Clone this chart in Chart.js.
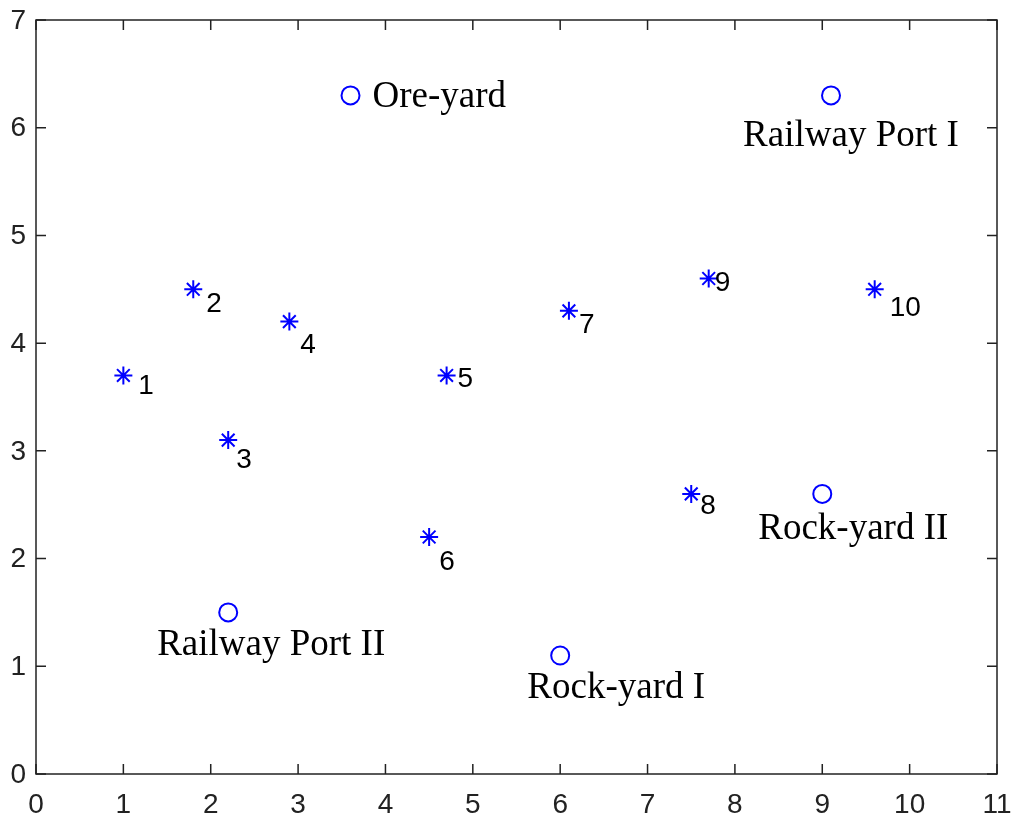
<!DOCTYPE html>
<html>
<head>
<meta charset="utf-8">
<script src="https://cdn.jsdelivr.net/npm/chart.js@4/dist/chart.umd.min.js"></script>
<style>
  html, body { margin: 0; padding: 0; background: #fff; }
  #wrap { width: 1012px; height: 816px; }
</style>
</head>
<body>
<div id="wrap"><canvas id="chart"></canvas></div>
<script>
// Data
const xTicks = [0, 1, 2, 3, 4, 5, 6, 7, 8, 9, 10, 11];
const yTicks = [0, 1, 2, 3, 4, 5, 6, 7];

const pointNames = ['1', '2', '3', '4', '5', '6', '7', '8', '9', '10'];
const pointX = [1.0, 1.8, 2.2, 2.9, 4.7, 4.5, 6.1, 7.5, 7.7, 9.6];
const pointY = [3.7, 4.5, 3.1, 4.2, 3.7, 2.2, 4.3, 2.6, 4.6, 4.5];

const siteNames = ['Ore-yard', 'Railway Port I', 'Rock-yard II', 'Railway Port II', 'Rock-yard I'];
const siteX = [3.6, 9.1, 9.0, 2.2, 6.0];
const siteY = [6.3, 6.3, 2.6, 1.5, 1.1];

// label placement (pixels from the marker, text baseline)
const pointLabelOffset = [[15, 19], [13, 23], [8, 28], [11, 31], [11, 12], [10, 33], [10, 22], [9, 20], [6, 12], [15, 27]];
const siteLabelOffset = [[22, 12, 'left'], [20, 51, 'center'], [31, 45, 'center'], [43, 43, 'center'], [56, 42, 'center']];

const tickFont = { family: "'Liberation Sans', Arial, sans-serif", size: 28 };

// MATLAB-style box with inward ticks on all sides, y tick labels
const boxPlugin = {
    id: 'box',
    afterDraw(chart) {
        const ctx = chart.ctx;
        const a = chart.chartArea;
        const xs = chart.scales.x, ys = chart.scales.y;
        const len = 10;
        ctx.save();
        ctx.strokeStyle = '#222';
        ctx.lineWidth = 1.5;
        ctx.strokeRect(a.left, a.top, a.right - a.left, a.bottom - a.top);
        ctx.beginPath();
        xTicks.forEach(v => {
            const px = xs.getPixelForValue(v);
            ctx.moveTo(px, a.bottom); ctx.lineTo(px, a.bottom - len);
            ctx.moveTo(px, a.top); ctx.lineTo(px, a.top + len);
        });
        yTicks.forEach(v => {
            const py = ys.getPixelForValue(v);
            ctx.moveTo(a.left, py); ctx.lineTo(a.left + len, py);
            ctx.moveTo(a.right, py); ctx.lineTo(a.right - len, py);
        });
        ctx.stroke();

        ctx.fillStyle = '#222';
        ctx.font = tickFont.size + 'px ' + tickFont.family;
        ctx.textAlign = 'right';
        ctx.textBaseline = 'middle';
        yTicks.forEach(v => {
            ctx.fillText(String(v), a.left - 10, ys.getPixelForValue(v) + 1);
        });
        ctx.restore();
    }
};

const labelPlugin = {
    id: 'labels',
    afterDatasetsDraw(chart) {
        const ctx = chart.ctx;
        ctx.save();
        ctx.fillStyle = '#000';
        ctx.textBaseline = 'alphabetic';

        ctx.font = tickFont.size + 'px ' + tickFont.family;
        ctx.textAlign = 'left';
        chart.getDatasetMeta(0).data.forEach((el, i) => {
            const o = pointLabelOffset[i];
            ctx.fillText(pointNames[i], el.x + o[0], el.y + o[1]);
        });

        ctx.font = "37px 'Liberation Serif', 'Times New Roman', serif";
        chart.getDatasetMeta(1).data.forEach((el, i) => {
            const o = siteLabelOffset[i];
            ctx.textAlign = o[2];
            ctx.fillText(siteNames[i], el.x + o[0], el.y + o[1]);
        });
        ctx.restore();
    }
};

new Chart(document.getElementById('chart'), {
    type: 'scatter',
    data: {
        datasets: [
            {
                label: 'points',
                data: pointX.map((x, i) => ({ x: x, y: pointY[i] })),
                pointStyle: 'star',
                pointRadius: 9,
                borderColor: '#0000ff',
                backgroundColor: '#0000ff',
                borderWidth: 2
            },
            {
                label: 'sites',
                data: siteX.map((x, i) => ({ x: x, y: siteY[i] })),
                pointStyle: 'circle',
                pointRadius: 9,
                borderColor: '#0000ff',
                backgroundColor: 'rgba(0,0,0,0)',
                borderWidth: 2
            }
        ]
    },
    options: {
        responsive: true,
        maintainAspectRatio: false,
        animation: false,
        layout: { padding: { top: 20, right: 15, left: 0, bottom: 0 } },
        plugins: {
            legend: { display: false },
            tooltip: { enabled: false }
        },
        scales: {
            x: {
                type: 'linear',
                min: 0,
                max: 11,
                afterBuildTicks: s => { s.ticks = xTicks.map(v => ({ value: v })); },
                afterFit: s => { s.height = 42; s.paddingLeft = 0; s.paddingRight = 0; },
                ticks: { color: '#222', font: tickFont, padding: 6, maxRotation: 0 },
                grid: { display: false },
                border: { display: false }
            },
            y: {
                type: 'linear',
                min: 0,
                max: 7,
                afterBuildTicks: s => { s.ticks = yTicks.map(v => ({ value: v })); },
                afterFit: s => { s.width = 36; s.paddingTop = 0; s.paddingBottom = 0; },
                ticks: { display: false },
                grid: { display: false },
                border: { display: false }
            }
        }
    },
    plugins: [boxPlugin, labelPlugin]
});
</script>
</body>
</html>
